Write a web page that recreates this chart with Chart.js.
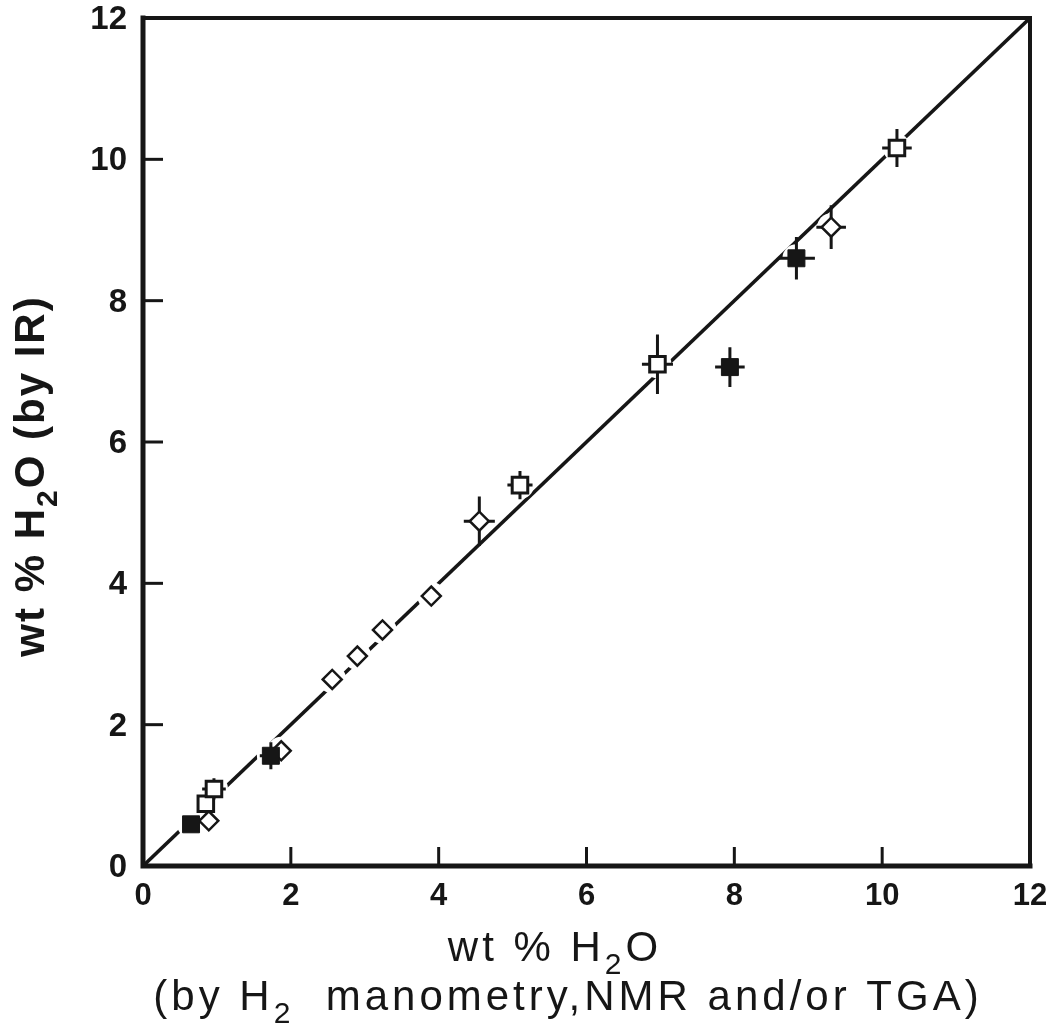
<!DOCTYPE html>
<html>
<head>
<meta charset="utf-8">
<script src="https://cdn.jsdelivr.net/npm/chart.js@4.4.1/dist/chart.umd.min.js"></script>
<style>
  html, body { margin: 0; padding: 0; background: #fff; overflow: hidden; }
</style>
</head>
<body>
<canvas id="c" width="1051" height="1028"></canvas>
<script>
// values
const tickValues = [0, 2, 4, 6, 8, 10, 12];

const filledX = [0.65, 1.73, 8.84, 7.94];
const filledY = [0.59, 1.56, 8.60, 7.06];
const filledErrX = [0, 0.15, 0.25, 0.20];
const filledErrY = [0, 0.19, 0.30, 0.28];

const openSqX = [0.85, 0.96, 5.10, 6.96, 10.20];
const openSqY = [0.88, 1.09, 5.39, 7.10, 10.16];
const openSqErrX = [0, 0.16, 0.17, 0.21, 0.20];
const openSqErrY = [0, 0.15, 0.20, 0.42, 0.27];

const diamondX = [0.89, 1.87, 2.56, 2.90, 3.24, 3.90, 4.55, 9.31];
const diamondY = [0.64, 1.63, 2.64, 2.97, 3.34, 3.82, 4.88, 9.04];
const diamondErrX = [0, 0, 0, 0, 0, 0, 0.21, 0.20];
const diamondErrY = [0, 0, 0, 0, 0, 0, 0.35, 0.31];

const lineX = [0, 12];
const lineY = [0, 12];

const INK = "#161616";
const SANS = "'Liberation Sans', Arial, sans-serif";
const pts = (xs, ys) => xs.map((x, i) => ({x: x, y: ys[i]}));
const allX = filledX.concat(openSqX, diamondX);
const allY = filledY.concat(openSqY, diamondY);
const errSets = [
  {xs: filledX, ys: filledY, ex: filledErrX, ey: filledErrY},
  {xs: openSqX, ys: openSqY, ex: openSqErrX, ey: openSqErrY},
  {xs: diamondX, ys: diamondY, ex: diamondErrX, ey: diamondErrY},
];

// text with subscripts, parts = [[text, isSub], ...]
function drawRich(ctx, parts, x, y, size, weight, spacing) {
  const main = weight + " " + size + "px " + SANS;
  const sub = weight + " " + Math.round(size * 0.72) + "px " + SANS;
  ctx.letterSpacing = spacing + "px";
  let w = 0;
  parts.forEach(p => { ctx.font = p[1] ? sub : main; w += ctx.measureText(p[0]).width; });
  let cx = x - w / 2;
  ctx.textAlign = "left";
  ctx.textBaseline = "alphabetic";
  parts.forEach(p => {
    ctx.font = p[1] ? sub : main;
    ctx.fillText(p[0], cx, p[1] ? y + size * 0.32 : y);
    cx += ctx.measureText(p[0]).width;
  });
  ctx.letterSpacing = "0px";
}

const framePlugin = {
  id: "frame",
  afterDatasetDraw(chart, args) {
    // error bars go above the white halos but under the markers
    if (args.index !== 0) return;
    const ctx = chart.ctx, xs = chart.scales.x, ys = chart.scales.y;
    ctx.save();
    ctx.strokeStyle = INK;
    ctx.lineWidth = 3;
    errSets.forEach(s => {
      s.xs.forEach((x, i) => {
        const px = xs.getPixelForValue(x), py = ys.getPixelForValue(s.ys[i]);
        ctx.beginPath();
        if (s.ex[i]) {
          ctx.moveTo(xs.getPixelForValue(x - s.ex[i]), py);
          ctx.lineTo(xs.getPixelForValue(x + s.ex[i]), py);
        }
        if (s.ey[i]) {
          ctx.moveTo(px, ys.getPixelForValue(s.ys[i] - s.ey[i]));
          ctx.lineTo(px, ys.getPixelForValue(s.ys[i] + s.ey[i]));
        }
        ctx.stroke();
      });
    });
    ctx.restore();
  },
  afterDraw(chart) {
    const ctx = chart.ctx, a = chart.chartArea;
    const xs = chart.scales.x, ys = chart.scales.y;
    ctx.save();
    ctx.strokeStyle = INK;
    ctx.fillStyle = INK;
    ctx.lineCap = "square";
    // frame
    ctx.lineWidth = 5;
    ctx.beginPath();
    ctx.moveTo(a.left, a.top);
    ctx.lineTo(a.left, a.bottom);
    ctx.lineTo(a.right, a.bottom);
    ctx.stroke();
    ctx.lineWidth = 4;
    ctx.beginPath();
    ctx.moveTo(a.left, a.top);
    ctx.lineTo(a.right, a.top);
    ctx.lineTo(a.right, a.bottom);
    ctx.stroke();
    // inward ticks
    ctx.lineWidth = 3;
    ctx.lineCap = "butt";
    tickValues.slice(1, -1).forEach(v => {
      const py = ys.getPixelForValue(v);
      ctx.beginPath(); ctx.moveTo(a.left, py); ctx.lineTo(a.left + 20, py); ctx.stroke();
      const px = xs.getPixelForValue(v);
      ctx.beginPath(); ctx.moveTo(px, a.bottom); ctx.lineTo(px, a.bottom - 19); ctx.stroke();
    });
    // tick labels
    ctx.font = "bold 33px " + SANS;
    ctx.textAlign = "right";
    ctx.textBaseline = "middle";
    tickValues.forEach(v => ctx.fillText(String(v), a.left - 16, ys.getPixelForValue(v) + 2));
    ctx.font = "bold 31px " + SANS;
    ctx.textAlign = "center";
    ctx.textBaseline = "alphabetic";
    tickValues.forEach(v => ctx.fillText(String(v), xs.getPixelForValue(v), 905));
    // axis titles
    drawRich(ctx, [["wt % H", false], ["2", true], ["O", false]], 555, 961, 42, "normal", 4);
    drawRich(ctx, [["(by H", false], ["2", true], ["  manometry,NMR and/or TGA)", false]], 568, 1010, 42, "normal", 4);
    ctx.translate(44, 476);
    ctx.rotate(-Math.PI / 2);
    drawRich(ctx, [["wt % H", false], ["2", true], ["O (by IR)", false]], 0, 0, 42, "bold", 2);
    ctx.restore();
  }
};

new Chart(document.getElementById("c"), {
  type: "scatter",
  data: {
    datasets: [
      {
        // white halos that cut the line around each marker
        data: pts(allX, allY),
        pointStyle: "circle",
        pointRadius: 14,
        pointBackgroundColor: "#fff",
        pointBorderColor: "#fff",
        pointBorderWidth: 0,
        order: 2,
      },
      {
        type: "line",
        data: pts(lineX, lineY),
        borderColor: INK,
        borderWidth: 3.5,
        pointRadius: 0,
        order: 3,
      },
      {
        data: pts(filledX, filledY),
        pointStyle: "rect",
        pointRadius: 12,
        pointBackgroundColor: INK,
        pointBorderColor: INK,
        pointBorderWidth: 1,
        order: 1,
      },
      {
        data: pts(openSqX, openSqY),
        pointStyle: "rect",
        pointRadius: 11,
        pointBackgroundColor: "#fff",
        pointBorderColor: INK,
        pointBorderWidth: 3,
        order: 1,
      },
      {
        data: pts(diamondX, diamondY),
        pointStyle: "rectRot",
        pointRadius: 9.5,
        pointBackgroundColor: "#fff",
        pointBorderColor: INK,
        pointBorderWidth: 2.5,
        order: 1,
      },
    ],
  },
  options: {
    responsive: false,
    animation: false,
    events: [],
    layout: {padding: {top: 18, right: 21, left: 0, bottom: 0}},
    plugins: {
      legend: {display: false},
      tooltip: {enabled: false},
    },
    scales: {
      x: {
        type: "linear",
        min: 0,
        max: 12,
        afterFit: s => { s.height = 162; },
        grid: {display: false},
        border: {display: false},
        ticks: {display: false},
      },
      y: {
        type: "linear",
        min: 0,
        max: 12,
        afterFit: s => { s.width = 143; },
        grid: {display: false},
        border: {display: false},
        ticks: {display: false},
      },
    },
  },
  plugins: [framePlugin],
});
</script>
</body>
</html>
